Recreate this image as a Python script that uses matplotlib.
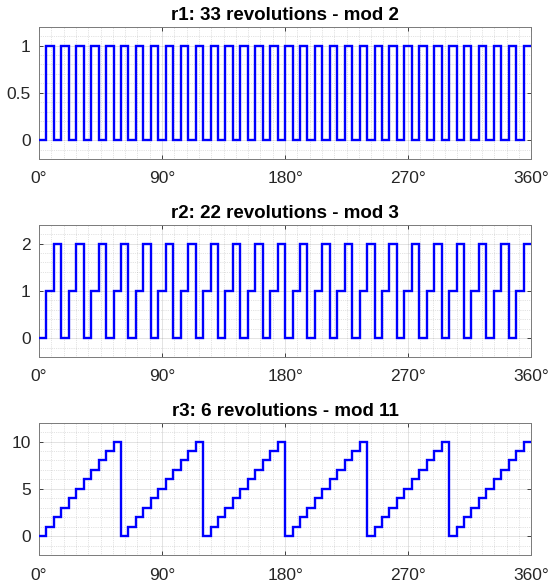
import matplotlib
matplotlib.use('Agg')
import numpy as np
import matplotlib.pyplot as plt
from matplotlib.ticker import MultipleLocator, FixedLocator

plt.rcParams['font.family'] = ['Liberation Sans', 'DejaVu Sans']

# ── data: one value per step, 66 steps spread over 0..360 degrees ──
r1_vals = [0, 1, 0, 1, 0, 1, 0, 1, 0, 1, 0, 1, 0, 1, 0, 1, 0, 1, 0, 1, 0, 1,
           0, 1, 0, 1, 0, 1, 0, 1, 0, 1, 0, 1, 0, 1, 0, 1, 0, 1, 0, 1, 0, 1,
           0, 1, 0, 1, 0, 1, 0, 1, 0, 1, 0, 1, 0, 1, 0, 1, 0, 1, 0, 1, 0, 1]
r2_vals = [0, 1, 2, 0, 1, 2, 0, 1, 2, 0, 1, 2, 0, 1, 2, 0, 1, 2, 0, 1, 2, 0,
           1, 2, 0, 1, 2, 0, 1, 2, 0, 1, 2, 0, 1, 2, 0, 1, 2, 0, 1, 2, 0, 1,
           2, 0, 1, 2, 0, 1, 2, 0, 1, 2, 0, 1, 2, 0, 1, 2, 0, 1, 2, 0, 1, 2]
r3_vals = [0, 1, 2, 3, 4, 5, 6, 7, 8, 9, 10,
           0, 1, 2, 3, 4, 5, 6, 7, 8, 9, 10,
           0, 1, 2, 3, 4, 5, 6, 7, 8, 9, 10,
           0, 1, 2, 3, 4, 5, 6, 7, 8, 9, 10,
           0, 1, 2, 3, 4, 5, 6, 7, 8, 9, 10,
           0, 1, 2, 3, 4, 5, 6, 7, 8, 9, 10]

titles = ['r1: 33 revolutions - mod 2',
          'r2: 22 revolutions - mod 3',
          'r3: 6 revolutions - mod 11']
x_ticks = [0, 90, 180, 270, 360]
x_ticklabels = ['0°', '90°', '180°', '270°', '360°']
y_ticks = [[0, 0.5, 1], [0, 1, 2], [0, 5, 10]]
y_ticklabels = [['0', '0.5', '1'], ['0', '1', '2'], ['0', '5', '10']]
y_limits = [(-0.2, 1.2), (-0.4, 2.4), (-2, 12)]
y_minor = [0.1, 0.2, 1]

series = [r1_vals, r2_vals, r3_vals]

AX_COL = '#262626'
fig = plt.figure(figsize=(5.48, 5.86), dpi=100, facecolor='white')
bottoms = [0.7287, 0.3908, 0.0529]

for i, vals in enumerate(series):
    ax = fig.add_axes([0.0712, bottoms[i], 0.898, 0.2258])
    edges = np.linspace(0, 360, len(vals) + 1)
    ax.stairs(vals, edges, baseline=None, color='#0000ff', lw=1.7, zorder=3)

    ax.set_xlim(0, 360)
    ax.set_ylim(*y_limits[i])
    ax.xaxis.set_major_locator(FixedLocator(x_ticks))
    ax.set_xticklabels(x_ticklabels)
    ax.yaxis.set_major_locator(FixedLocator(y_ticks[i]))
    ax.set_yticklabels(y_ticklabels[i])
    ax.xaxis.set_minor_locator(MultipleLocator(9))
    ax.yaxis.set_minor_locator(MultipleLocator(y_minor[i]))

    ax.grid(which='major', color=AX_COL, alpha=0.15, lw=0.6)
    ax.grid(which='minor', color=AX_COL, alpha=0.25, lw=0.5, ls=':')
    ax.set_axisbelow(True)

    ax.tick_params(which='major', direction='in', length=3, width=0.6,
                   top=True, right=True, colors=AX_COL, labelsize=12.5)
    ax.tick_params(axis='x', which='major', pad=9)
    ax.tick_params(axis='y', which='major', pad=6)
    ax.tick_params(which='minor', length=0, top=True, right=True)
    for sp in ax.spines.values():
        sp.set_color('#7a7a7a')
        sp.set_linewidth(0.7)

    ax.set_title(titles[i], fontsize=13.5, fontweight='bold', color='black', pad=5)

fig.savefig('out.png', dpi=100, facecolor='white')
